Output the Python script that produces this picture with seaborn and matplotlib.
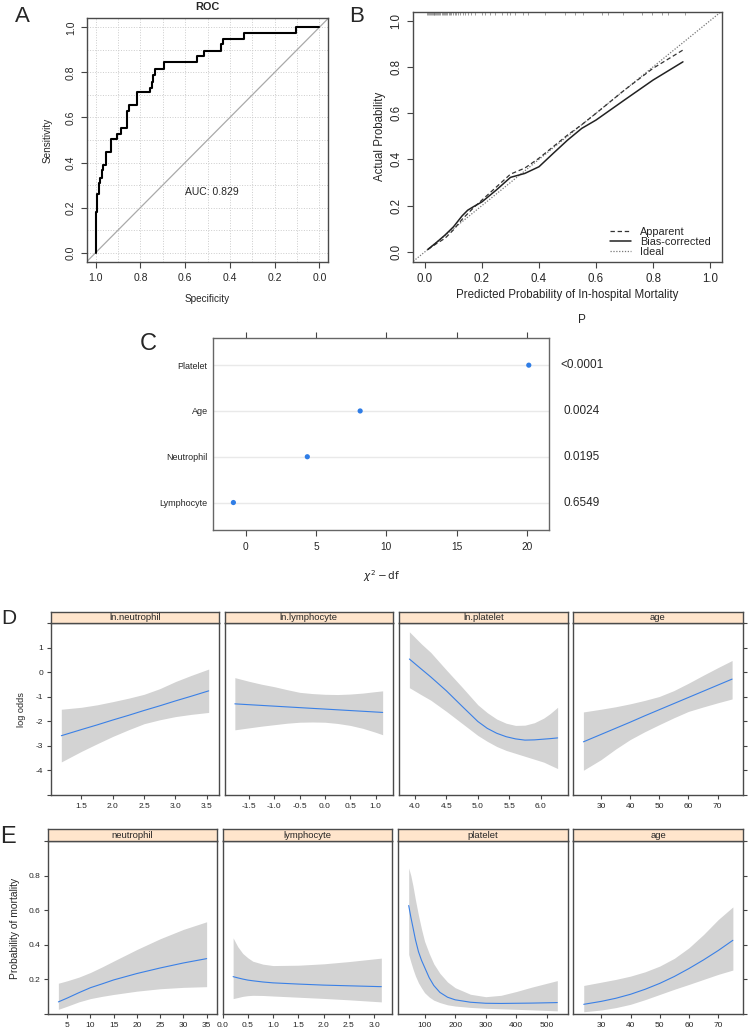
import numpy as np
import pandas as pd
import matplotlib
matplotlib.use("Agg")
import matplotlib.pyplot as plt
import matplotlib.transforms as mtransforms
from matplotlib.lines import Line2D
import seaborn as sns

# ======================= DATA =======================
# A: ROC curve corners (specificity, sensitivity)
roc_spec = [1.0, 1.0, 0.997, 0.993, 0.987, 0.981, 0.973, 0.966, 0.954, 0.931, 0.906,
            0.888, 0.861, 0.849, 0.817, 0.757, 0.750, 0.742, 0.735, 0.694, 0.548,
            0.516, 0.441, 0.432, 0.335, 0.106, 0.0]
roc_sens = [0.0, 0.10, 0.182, 0.26, 0.309, 0.331, 0.369, 0.391, 0.446, 0.503, 0.525,
            0.552, 0.630, 0.657, 0.712, 0.731, 0.757, 0.787, 0.816, 0.846, 0.872,
            0.896, 0.924, 0.948, 0.973, 1.0, 1.0]
roc_auc = 0.829
roc_ticks = [1.0, 0.8, 0.6, 0.4, 0.2, 0.0]

# B: calibration curves
cal_pred = [0.01, 0.04, 0.07, 0.10, 0.13, 0.15, 0.17, 0.20, 0.25, 0.30, 0.35,
            0.40, 0.45, 0.50, 0.55, 0.60, 0.70, 0.80, 0.905]
cal_apparent = [0.01, 0.035, 0.058, 0.095, 0.14, 0.165, 0.19, 0.224, 0.28, 0.336, 0.362,
                0.405, 0.455, 0.505, 0.55, 0.599, 0.70, 0.794, 0.873]
cal_bias = [0.01, 0.04, 0.072, 0.108, 0.155, 0.18, 0.195, 0.216, 0.267, 0.322, 0.339,
            0.368, 0.426, 0.483, 0.534, 0.57, 0.657, 0.743, 0.822]
cal_ideal = [0.0, 1.0]
cal_rug = [0.008, 0.012, 0.015, 0.018, 0.021, 0.024, 0.027, 0.030, 0.033, 0.036,
           0.040, 0.043, 0.047, 0.050, 0.054, 0.058, 0.062, 0.066, 0.070, 0.074,
           0.078, 0.083, 0.088, 0.093, 0.098, 0.104, 0.110, 0.117, 0.124, 0.132,
           0.140, 0.150, 0.160, 0.175, 0.200, 0.210, 0.228, 0.246, 0.269, 0.287,
           0.298, 0.316, 0.345, 0.363, 0.421, 0.491, 0.526, 0.556, 0.620, 0.643,
           0.696, 0.760, 0.795, 0.830, 0.854, 0.912]
cal_ticks = [0.0, 0.2, 0.4, 0.6, 0.8, 1.0]

# C: chi-square minus df
c_vars = ["Platelet", "Age", "Neutrophil", "Lymphocyte"]
c_chisq_df = [20.14, 8.14, 4.38, -0.88]
c_pvals = ["<0.0001", "0.0024", "0.0195", "0.6549"]
c_ticks = [0, 5, 10, 15, 20]

# D: log-odds effects
d_names = ["ln.neutrophil", "ln.lymphocyte", "ln.platelet", "age"]
d_x = [[1.18, 1.5, 1.75, 2.0, 2.25, 2.5, 2.75, 3.0, 3.25, 3.53],
       [-1.78, -1.5, -1.25, -1.0, -0.75, -0.5, -0.25, 0.0, 0.25, 0.5, 0.75, 1.0, 1.14],
       [3.91, 4.1, 4.25, 4.5, 4.75, 5.0, 5.15, 5.3, 5.45, 5.6, 5.75, 5.9, 6.05, 6.15, 6.27],
       [24, 30, 35, 40, 45, 50, 55, 60, 65, 70, 75]]
d_fit = [[-2.60, -2.35, -2.16, -1.96, -1.77, -1.57, -1.38, -1.18, -0.99, -0.77],
         [-1.30, -1.334, -1.364, -1.394, -1.424, -1.454, -1.484, -1.513, -1.543, -1.573,
          -1.603, -1.633, -1.65],
         [0.53, 0.12, -0.20, -0.77, -1.40, -2.02, -2.30, -2.50, -2.64, -2.73, -2.78,
          -2.77, -2.74, -2.72, -2.69],
         [-2.85, -2.55, -2.30, -2.05, -1.79, -1.54, -1.29, -1.04, -0.79, -0.54, -0.29]]
d_lo = [[-3.67, -3.24, -2.93, -2.63, -2.36, -2.11, -1.95, -1.82, -1.73, -1.65],
        [-2.36, -2.28, -2.21, -2.15, -2.09, -2.05, -2.04, -2.05, -2.10, -2.18, -2.30,
         -2.46, -2.56],
        [-0.64, -0.93, -1.15, -1.61, -2.10, -2.59, -2.83, -3.04, -3.20, -3.32, -3.44,
         -3.56, -3.68, -3.80, -3.94],
        [-4.01, -3.58, -3.15, -2.76, -2.44, -2.15, -1.87, -1.61, -1.43, -1.26, -1.10]]
d_hi = [[-1.52, -1.44, -1.34, -1.21, -1.07, -0.91, -0.68, -0.39, -0.14, 0.12],
        [-0.23, -0.38, -0.50, -0.60, -0.72, -0.83, -0.88, -0.91, -0.92, -0.90, -0.86,
         -0.80, -0.77],
        [1.64, 1.15, 0.80, 0.08, -0.62, -1.34, -1.66, -1.92, -2.09, -2.18, -2.17,
         -2.07, -1.88, -1.70, -1.44],
        [-1.63, -1.52, -1.42, -1.30, -1.16, -1.00, -0.76, -0.46, -0.14, 0.17, 0.47]]
d_xticks = [[1.5, 2.0, 2.5, 3.0, 3.5],
            [-1.5, -1.0, -0.5, 0.0, 0.5, 1.0],
            [4.0, 4.5, 5.0, 5.5, 6.0],
            [30, 40, 50, 60, 70]]
d_xticklabels = [["1.5", "2.0", "2.5", "3.0", "3.5"],
                 ["-1.5", "-1.0", "-0.5", "0.0", "0.5", "1.0"],
                 ["4.0", "4.5", "5.0", "5.5", "6.0"],
                 ["30", "40", "50", "60", "70"]]
d_yticks = [-5, -4, -3, -2, -1, 0, 1, 2]
d_yticklabels = ["", "-4", "-3", "-2", "-1", "0", "1", ""]

# E: probability effects
e_names = ["neutrophil", "lymphocyte", "platelet", "age"]
e_x = [[3.1, 5, 7.5, 10, 12.5, 15, 20, 25, 30, 35],
       [0.21, 0.3, 0.4, 0.5, 0.6, 0.8, 1.0, 1.5, 2.0, 2.5, 3.14],
       [48, 55, 62, 70, 80, 90, 100, 115, 130, 150, 175, 200, 250, 300, 350, 400, 450, 534],
       [24, 30, 35, 40, 45, 50, 55, 60, 65, 70, 75]]
e_fit = [[0.07, 0.092, 0.123, 0.152, 0.174, 0.197, 0.234, 0.266, 0.295, 0.32],
         [0.216, 0.209, 0.202, 0.196, 0.192, 0.185, 0.18, 0.173, 0.167, 0.163, 0.158],
         [0.627, 0.56, 0.50, 0.43, 0.36, 0.31, 0.27, 0.21, 0.165, 0.125, 0.097, 0.082,
          0.068, 0.062, 0.061, 0.062, 0.063, 0.066],
         [0.056, 0.073, 0.091, 0.114, 0.143, 0.177, 0.217, 0.263, 0.313, 0.367, 0.426]]
e_lo = [[0.027, 0.045, 0.07, 0.089, 0.102, 0.113, 0.132, 0.146, 0.154, 0.158],
        [0.089, 0.095, 0.102, 0.106, 0.108, 0.107, 0.104, 0.097, 0.09, 0.082, 0.07],
        [0.344, 0.30, 0.26, 0.22, 0.18, 0.15, 0.123, 0.098, 0.08, 0.066, 0.053, 0.046,
         0.038, 0.033, 0.03, 0.027, 0.024, 0.018],
        [0.013, 0.023, 0.037, 0.056, 0.083, 0.113, 0.143, 0.171, 0.2, 0.229, 0.254]]
e_hi = [[0.178, 0.192, 0.213, 0.24, 0.272, 0.306, 0.373, 0.435, 0.489, 0.533],
        [0.44, 0.39, 0.35, 0.325, 0.305, 0.288, 0.28, 0.282, 0.29, 0.303, 0.323],
        [0.844, 0.80, 0.74, 0.66, 0.57, 0.49, 0.42, 0.35, 0.29, 0.235, 0.185, 0.152,
         0.114, 0.10, 0.108, 0.13, 0.155, 0.193],
        [0.165, 0.184, 0.2, 0.219, 0.244, 0.277, 0.322, 0.383, 0.46, 0.546, 0.619]]
e_xticks = [[5, 10, 15, 20, 25, 30, 35],
            [0.0, 0.5, 1.0, 1.5, 2.0, 2.5, 3.0],
            [100, 200, 300, 400, 500],
            [30, 40, 50, 60, 70]]
e_xticklabels = [["5", "10", "15", "20", "25", "30", "35"],
                 ["0.0", "0.5", "1.0", "1.5", "2.0", "2.5", "3.0"],
                 ["100", "200", "300", "400", "500"],
                 ["30", "40", "50", "60", "70"]]
e_yticks = [0.0, 0.2, 0.4, 0.6, 0.8, 1.0]
e_yticklabels = ["", "0.2", "0.4", "0.6", "0.8", ""]

# ======================= STYLE / LAYOUT =======================
sns.set_theme(style="white")
plt.rcParams["font.family"] = ["Liberation Sans", "DejaVu Sans"]
plt.rcParams["axes.unicode_minus"] = False

W, H = 750, 1032
def rect(x0, y0, x1, y1):
    return [x0 / W, 1 - y1 / H, (x1 - x0) / W, (y1 - y0) / H]

BOX = "#4a4a4a"
def box(ax, color=BOX, lw=1.0):
    for s in ax.spines.values():
        s.set_visible(True)
        s.set_color(color)
        s.set_linewidth(lw)

fig = plt.figure(figsize=(W / 100, H / 100), dpi=100)

# ---------------- A: ROC ----------------
axA = fig.add_axes(rect(86.7, 18.3, 328.3, 261.7))
box(axA)
axA.set_xlim(1.04, -0.04)
axA.set_ylim(-0.04, 1.04)
axA.set_xticks(np.arange(0, 1.01, 0.1), minor=True)
axA.set_yticks(np.arange(0, 1.01, 0.1), minor=True)
axA.grid(True, which="both", ls=":", color="#cccccc", lw=0.7)
axA.set_axisbelow(True)
axA.axline((cal_ideal[1], cal_ideal[0]), (cal_ideal[0], cal_ideal[1]), color="#a9a9a9", lw=0.9)
sns.lineplot(x=roc_spec, y=roc_sens, ax=axA, sort=False, estimator=None,
             drawstyle="steps-post", color="black", lw=1.5)
axA.set_xticks(roc_ticks)
axA.set_xticklabels([f"{t:.1f}" for t in roc_ticks])
axA.set_yticks(roc_ticks)
axA.set_yticklabels([f"{t:.1f}" for t in roc_ticks], rotation=90, va="center")
axA.tick_params(which="major", direction="out", length=4.3, width=0.8, color="#444444",
                labelsize=7.5, pad=3.5, bottom=True, left=True)
axA.tick_params(which="minor", length=0)
axA.text(0.48, 0.27, f"AUC: {roc_auc:.3f}", ha="center", va="center", fontsize=7.5)
axA.text(0.5, 1.046, "ROC", transform=axA.transAxes, fontsize=7.8, fontweight="bold",
         ha="center", va="center")
axA.set_xlabel("Specificity", fontsize=7.2, va="center")
axA.xaxis.set_label_coords(0.5, -0.153)
axA.set_ylabel("Sensitivity", fontsize=7.2, va="center")
axA.yaxis.set_label_coords(-0.160, 0.5)

# ---------------- B: calibration ----------------
axB = fig.add_axes(rect(413.3, 11.7, 721.7, 261.7))
box(axB)
axB.set_xlim(-0.041, 1.041)
axB.set_ylim(-0.043, 1.039)
axB.axline((cal_ideal[0], cal_ideal[0]), (cal_ideal[1], cal_ideal[1]),
           color="#777777", lw=0.9, ls=(0, (1, 1.3)))
sns.lineplot(x=cal_pred, y=cal_apparent, ax=axB, sort=False, estimator=None,
             color="#333333", lw=0.9, ls=(0, (3.5, 2.2)))
sns.lineplot(x=cal_pred, y=cal_bias, ax=axB, sort=False, estimator=None,
             color="#222222", lw=1.1)
axB.vlines(cal_rug, 1.024, 1.039, color="#777777", lw=0.5)
axB.set_xticks(cal_ticks)
axB.set_xticklabels([f"{t:.1f}" for t in cal_ticks])
axB.set_yticks(cal_ticks)
axB.set_yticklabels([f"{t:.1f}" for t in cal_ticks], rotation=90, va="center")
axB.tick_params(direction="out", length=4.3, width=0.8, color="#444444",
                labelsize=8.3, pad=3.5, bottom=True, left=True)
axB.set_xlabel("Predicted Probability of In-hospital Mortality", fontsize=8.3, va="center")
axB.xaxis.set_label_coords(0.5, -0.133)
axB.set_ylabel("Actual Probability", fontsize=8.3, va="center")
axB.yaxis.set_label_coords(-0.108, 0.5)
handles = [Line2D([], [], color="#333333", lw=0.9, ls=(0, (3.5, 2.2))),
           Line2D([], [], color="#222222", lw=1.1),
           Line2D([], [], color="#777777", lw=0.9, ls=(0, (1, 1.3)))]
axB.legend(handles, ["Apparent", "Bias-corrected", "Ideal"], loc="lower right",
           bbox_to_anchor=(0.99, -0.012), frameon=False, fontsize=7.8,
           labelspacing=0.0, handlelength=1.9, handletextpad=0.9, borderpad=0.2)

# ---------------- C: chi-square dot plot ----------------
axC = fig.add_axes(rect(213.3, 337.7, 549.3, 530))
box(axC, color="#666666", lw=1.0)
ypos = np.arange(len(c_vars))
axC.set_xlim(-2.31, 21.6)
axC.set_ylim(len(c_vars) - 0.4, -0.6)
axC.set_yticks(ypos)
axC.set_yticklabels(c_vars)
axC.grid(True, axis="y", color="#e9e9e9", lw=1.0)
axC.set_axisbelow(True)
sns.scatterplot(x=c_chisq_df, y=ypos, ax=axC, color="#2f7de6", s=14,
                edgecolor="none", zorder=3)
axC.set_xticks(c_ticks)
axC.tick_params(axis="x", direction="out", length=4, width=0.8, color="#444444",
                labelsize=7.3, pad=5, bottom=True, top=True)
axC.tick_params(axis="y", length=0, labelsize=6.5, pad=4)
axC.set_xlabel(r"$\chi^2-\mathrm{df}$", fontsize=7.5, va="center")
axC.xaxis.set_label_coords(0.5, -0.239)
trC = mtransforms.blended_transform_factory(axC.transAxes, axC.transData)
for yp, pv in zip(ypos, c_pvals):
    axC.text(1.097, yp, pv, transform=trC, ha="center", va="center", fontsize=8.5)
axC.text(1.097, 1.092, "P", transform=axC.transAxes, ha="center", va="center", fontsize=8.5)

# ---------------- D / E: effect panels ----------------
BAND = "#d3d3d3"
LINE = "#3a80e6"
STRIP = "#ffe5cc"

def effect_row(xs, fits, los, his, names, xticks, xlabels, yticks, ylabels,
               ylim, panels, strip_y, panel_y):
    axes = []
    for i in range(4):
        x0, x1 = panels[i]
        ax = fig.add_axes(rect(x0, panel_y[0], x1, panel_y[1]))
        sax = fig.add_axes(rect(x0, strip_y[0], x1, strip_y[1]))
        box(ax, lw=1.0)
        box(sax, lw=1.0)
        sax.set_facecolor(STRIP)
        sax.set_xticks([])
        sax.set_yticks([])
        sax.text(0.5, 0.45, names[i], ha="center", va="center", fontsize=6.8,
                 transform=sax.transAxes)
        ax.fill_between(xs[i], los[i], his[i], color=BAND, lw=0)
        sns.lineplot(x=xs[i], y=fits[i], ax=ax, sort=False, estimator=None,
                     color=LINE, lw=0.8)
        xr = max(xs[i]) - min(xs[i])
        ax.set_xlim(min(xs[i]) - 0.07 * xr, max(xs[i]) + 0.07 * xr)
        ax.set_ylim(*ylim)
        ax.set_xticks(xticks[i])
        ax.set_xticklabels(xlabels[i])
        ax.set_yticks(yticks)
        ax.tick_params(axis="x", direction="out", length=3, width=0.8, color="#444444",
                       labelsize=6, pad=2.5, bottom=True)
        if i == 0:
            ax.set_yticklabels(ylabels)
            ax.tick_params(axis="y", direction="out", length=3, width=0.8,
                           color="#444444", labelsize=6, pad=2.5, left=True)
        elif i == 3:
            ax.yaxis.tick_right()
            ax.set_yticklabels([])
            ax.tick_params(axis="y", direction="out", length=3, width=0.8,
                           color="#444444", right=True, left=False)
        else:
            ax.tick_params(axis="y", length=0, labelleft=False)
        axes.append(ax)
    return axes

effect_row(d_x, d_fit, d_lo, d_hi, d_names, d_xticks, d_xticklabels,
           d_yticks, d_yticklabels, (-5.02, 2.0),
           [(51, 219), (224.5, 393), (399, 568), (573, 742.5)],
           (611.5, 623), (623, 795))
effect_row(e_x, e_fit, e_lo, e_hi, e_names, e_xticks, e_xticklabels,
           e_yticks, e_yticklabels, (0.0, 1.0),
           [(48, 217), (222.5, 391.7), (398.3, 567.7), (573.3, 743.3)],
           (829, 841), (841, 1014))

fig.text(22 / W, 1 - 710 / H, "log odds", rotation=90, ha="center", va="center", fontsize=6.6)
fig.text(15 / W, 1 - 928 / H, "Probability of mortality", rotation=90, ha="center",
         va="center", fontsize=7.4)

# panel letters
for lab, (px, py, fs) in {"A": (22.5, 16, 16), "B": (357, 16, 16), "C": (148, 344, 17),
                          "D": (9, 618.5, 15), "E": (8.5, 837, 17)}.items():
    fig.text(px / W, 1 - py / H, lab, ha="center", va="center", fontsize=fs)

fig.savefig("out.png", dpi=100)
